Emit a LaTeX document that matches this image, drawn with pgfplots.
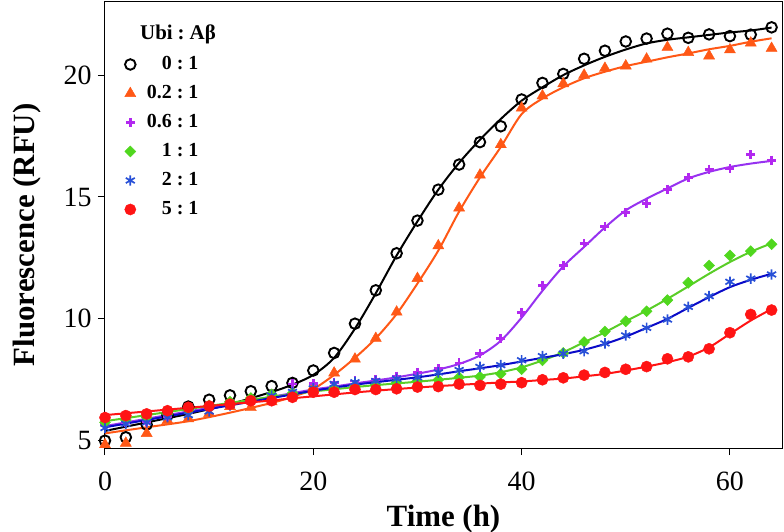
\documentclass[border=0pt]{standalone}
\usepackage{pgfplots}
\usepackage{pgfplotstable}
\pgfplotsset{compat=1.18}
\usepackage{fontspec}
\setmainfont{Liberation Serif}
\definecolor{corange}{RGB}{255,88,22}
\definecolor{cpurple}{RGB}{178,40,240}
\definecolor{cpurpleline}{RGB}{150,50,240}
\definecolor{cgreen}{RGB}{80,215,30}
\definecolor{cgreenline}{RGB}{90,205,40}
\definecolor{cblue}{RGB}{40,80,215}
\definecolor{cblueline}{RGB}{10,10,200}
\definecolor{cred}{RGB}{255,20,20}

% measured points: t, 0:1, 0.2:1, 0.6:1, 1:1, 2:1, 5:1
\pgfplotstableread{
t  k     o     p     g     b     r
0  5.00  4.84  5.65  5.75  5.52  5.95
2  5.14  4.90  5.75  5.85  5.69  6.03
4  5.66  5.30  5.80  5.95  5.75  6.10
6  6.05  5.83  6.00  6.10  5.96  6.23
8  6.40  5.90  6.15  6.25  6.05  6.37
10 6.68  6.12  6.35  6.45  6.20  6.42
12 6.86  6.40  6.55  6.60  6.45  6.50
14 7.03  6.36  6.75  6.75  6.65  6.64
16 7.24  6.60  6.95  6.90  6.85  6.64
18 7.37  6.85  7.33  6.95  7.00  6.78
20 7.88  7.20  7.35  7.05  7.15  6.99
22 8.60  7.78  7.40  7.15  7.33  6.99
24 9.80  8.35  7.45  7.25  7.40  7.10
26 11.17 9.20  7.50  7.30  7.45  7.10
28 12.69 10.28 7.65  7.40  7.54  7.13
30 14.03 11.66 7.80  7.45  7.60  7.20
32 15.30 13.00 7.95  7.50  7.80  7.22
34 16.33 14.55 8.19  7.60  7.90  7.32
36 17.25 15.90 8.57  7.62  8.03  7.27
38 17.90 17.15 9.20  7.74  8.10  7.32
40 19.00 18.65 10.25 7.93  8.30  7.38
42 19.68 19.15 11.37 8.30  8.47  7.50
44 20.05 19.65 12.19 8.60  8.57  7.58
46 20.67 20.00 13.10 9.05  8.67  7.69
48 21.00 20.28 13.78 9.48  8.99  7.80
50 21.38 20.38 14.36 9.90  9.32  7.93
52 21.50 20.66 14.74 10.31 9.63  8.04
54 21.70 21.14 15.32 10.77 9.97  8.36
56 21.53 20.93 15.80 11.48 10.49 8.44
58 21.67 20.79 16.14 12.19 10.93 8.77
60 21.60 21.04 16.17 12.60 11.52 9.43
62 21.66 21.32 16.73 12.78 11.65 10.18
64 21.96 21.10 16.51 13.06 11.82 10.36
}\pts

% fitted curves
\pgfplotstableread{
t  k     o     p     g     b     r
0  5.40  5.30  5.60  5.80  5.55  6.05
4  5.75  5.55  5.90  6.05  5.85  6.20
8  6.10  5.80  6.20  6.30  6.15  6.35
12 6.50  6.15  6.50  6.55  6.45  6.50
16 7.00  6.55  6.80  6.80  6.75  6.65
18 7.30  6.80  6.95  6.90  6.90  6.74
20 7.70  7.12  7.10  7.02  7.05  6.82
22 8.40  7.70  7.22  7.11  7.18  6.90
24 9.60  8.40  7.35  7.20  7.30  6.98
26 11.05 9.20  7.47  7.28  7.40  7.05
28 12.60 10.20 7.60  7.35  7.50  7.12
30 14.00 11.45 7.75  7.42  7.60  7.18
32 15.30 12.80 7.92  7.50  7.72  7.24
34 16.40 14.40 8.15  7.58  7.85  7.29
36 17.35 15.80 8.50  7.67  7.97  7.34
38 18.20 17.05 9.10  7.81  8.10  7.39
40 18.95 18.40 10.05 8.01  8.25  7.43
42 19.50 19.04 11.15 8.29  8.40  7.49
44 20.00 19.50 12.15 8.63  8.55  7.55
46 20.40 19.87 12.95 9.04  8.73  7.64
48 20.75 20.14 13.75 9.45  8.97  7.74
50 21.05 20.37 14.45 9.90  9.27  7.88
52 21.30 20.55 14.93 10.34 9.63  8.04
54 21.45 20.73 15.35 10.82 10.00 8.22
56 21.55 20.89 15.76 11.33 10.45 8.45
58 21.65 21.06 16.03 11.85 10.89 8.83
60 21.75 21.20 16.23 12.33 11.30 9.38
62 21.83 21.37 16.37 12.75 11.60 9.93
64 21.95 21.51 16.48 13.10 11.85 10.40
}\fits

\newcommand{\rs}[2]{#1\kern5bp:\kern5bp#2}

\begin{document}
\begin{tikzpicture}
\path[use as bounding box] (-105bp,-84bp) rectangle (679bp,448bp);
\begin{axis}[
  at={(0,0)}, anchor=south west, scale only axis,
  width=677bp, height=446bp,
  xmin=0, xmax=65, ymin=4.7, ymax=23,
  xtick={0,20,40,60}, ytick={5,10,15,20},
  tick align=outside, tick pos=left,
  major tick length=7bp,
  tick style={black, line width=1bp},
  axis line style={line width=1bp},
  clip=false,
  /pgf/number format/assume math mode=true,
  ticklabel style={font=\fontsize{28}{28}\selectfont},
  xticklabel style={yshift=-13bp},
  yticklabel style={xshift=-3bp},
  xlabel={Time (h)}, ylabel={Fluorescence (RFU)},
  label style={font=\fontsize{31}{31}\selectfont\bfseries},
  xlabel style={at={(axis description cs:0.5,-0.16)}, anchor=center},
  ylabel style={at={(axis description cs:-0.115,0.478)}, anchor=center},
  legend style={draw=none, fill=none, at={(axis description cs:0.0244,0.885)}, anchor=north west,
    font=\fontsize{20}{20}\selectfont\bfseries, row sep=11bp,
    nodes={inner sep=0pt, text height=14bp, text depth=4bp},
    /tikz/every odd column/.append style={column sep=11bp}},
  legend cell align=right,
]
% curves
\addplot[black, line width=2bp, smooth, forget plot] table[x=t,y=k] {\fits};
\addplot[corange, line width=2bp, smooth, forget plot] table[x=t,y=o] {\fits};
\addplot[cpurpleline, line width=2bp, smooth, forget plot] table[x=t,y=p] {\fits};
\addplot[cgreenline, line width=2bp, smooth, forget plot] table[x=t,y=g] {\fits};
\addplot[cblueline, line width=2bp, smooth, forget plot] table[x=t,y=b] {\fits};
\addplot[cred, line width=2bp, smooth, forget plot] table[x=t,y=r] {\fits};
% points
\addplot[only marks, mark=o, mark size=5.3bp, mark options={black, line width=1.9bp, fill=white}] table[x=t,y=k] {\pts};
\addlegendentry{\rs{0}{1}}
\addplot[only marks, mark=triangle*, mark size=6.4bp, mark options={corange, fill=corange}] table[x=t,y=o] {\pts};
\addlegendentry{\rs{0.2}{1}}
\addplot[only marks, mark=+, mark size=4.5bp, mark options={cpurple, line width=2.7bp}] table[x=t,y=p] {\pts};
\addlegendentry{\rs{0.6}{1}}
\addplot[only marks, mark=square*, mark size=3.9bp, mark options={cgreen, fill=cgreen, rotate=45}] table[x=t,y=g] {\pts};
\addlegendentry{\rs{1}{1}}
\addplot[only marks, mark=asterisk, mark size=5.2bp, mark options={cblue, line width=1.7bp}] table[x=t,y=b] {\pts};
\addlegendentry{\rs{2}{1}}
\addplot[only marks, mark=*, mark size=5.6bp, mark options={cred, fill=cred}] table[x=t,y=r] {\pts};
\addlegendentry{\rs{5}{1}}
\node[anchor=base west, font=\fontsize{21}{21}\selectfont\bfseries, inner sep=0pt] at (axis description cs:0.0517,0.9164) {Ubi\kern5bp:\kern5bp Aβ};
\end{axis}
\end{tikzpicture}
\end{document}
